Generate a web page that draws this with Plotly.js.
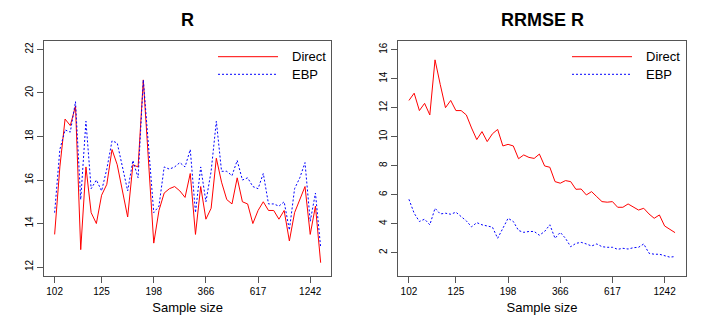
<!DOCTYPE html>
<html>
<head>
<meta charset="utf-8">
<script src="https://cdn.plot.ly/plotly-3.0.1.min.js"></script>
<style>html,body{margin:0;padding:0;background:#fff;}#chart{width:708px;height:327px;}</style>
</head>
<body>
<div id="chart"></div>
<script>
// Tick labels (sample sizes) at area index positions
const tickPositions = [1, 10, 20, 30, 40, 50];
const tickLabels = ['102', '125', '198', '366', '617', '1242'];

// Left panel: R estimates
const rDirect = [13.5, 16.6, 18.8, 18.5, 19.4, 12.8, 16.6, 14.5, 14.0, 15.3,
  15.8, 17.4, 16.7, 15.5, 14.3, 16.7, 16.6, 20.6, 16.8, 13.1,
  14.6, 15.4, 15.6, 15.7, 15.5, 15.2, 16.3, 13.5, 15.7, 14.2,
  14.7, 17.0, 15.9, 15.1, 14.9, 16.1, 15.0, 14.9, 14.0, 14.6,
  15.0, 14.6, 14.6, 14.2, 14.6, 13.2, 14.5, 15.1, 15.7, 13.5,
  14.8, 12.2];
const rEBP = [14.5, 17.4, 18.3, 18.2, 19.6, 15.1, 18.7, 15.6, 16.0, 15.5,
  16.5, 17.8, 17.7, 16.6, 15.5, 16.9, 16.1, 20.6, 17.4, 14.5,
  14.8, 16.6, 16.5, 16.6, 16.8, 16.6, 17.4, 14.5, 16.6, 15.0,
  16.4, 18.7, 16.4, 16.4, 16.2, 16.9, 16.0, 16.1, 15.7, 15.6,
  16.3, 14.9, 14.9, 14.8, 15.0, 13.7, 15.6, 16.1, 16.8, 14.1,
  15.4, 12.9];

// Right panel: RRMSE of R
const rrmseDirect = [12.5, 13.0, 11.8, 12.3, 11.5, 15.3, 13.6, 12.0, 12.5, 11.8,
  11.8, 11.5, 10.6, 9.8, 10.35, 9.66, 10.2, 10.5, 9.36, 9.47,
  9.36, 8.48, 8.74, 8.57, 8.5, 8.8, 7.98, 7.89, 6.9, 6.79,
  6.97, 6.9, 6.37, 6.39, 5.98, 6.21, 5.86, 5.52, 5.48, 5.52,
  5.13, 5.13, 5.36, 5.13, 4.94, 5.06, 4.67, 4.37, 4.6, 3.84,
  3.61, 3.38];
const rrmseEBP = [5.68, 4.72, 4.15, 4.31, 3.92, 5.06, 4.67, 4.72, 4.65, 4.79,
  4.49, 4.19, 3.78, 4.07, 3.92, 3.85, 3.76, 2.99, 3.7, 4.37,
  4.15, 3.53, 3.4, 3.46, 3.46, 3.2, 3.46, 3.92, 2.99, 3.4,
  2.99, 2.41, 2.64, 2.71, 2.6, 2.46, 2.6, 2.41, 2.37, 2.37,
  2.23, 2.3, 2.25, 2.34, 2.37, 2.6, 1.96, 1.89, 1.89, 1.78,
  1.69, 1.73];

const leftYTicks = [12, 14, 16, 18, 20, 22];
const rightYTicks = [2, 4, 6, 8, 10, 12, 14, 16];

const idx = rDirect.map((_, i) => i + 1);
const FONT = 'Liberation Sans, Arial, Helvetica, sans-serif';
const RED = '#ff0000';
const BLUE = '#0000ff';
const BOX = '#555555';

const traces = [
  {x: idx, y: rDirect, type: 'scatter', mode: 'lines', name: 'Direct', xaxis: 'x', yaxis: 'y',
   line: {color: RED, width: 1}, showlegend: false},
  {x: idx, y: rEBP, type: 'scatter', mode: 'lines', name: 'EBP', xaxis: 'x', yaxis: 'y',
   line: {color: BLUE, width: 1, dash: '2px,2px'}, showlegend: false},
  {x: idx, y: rrmseDirect, type: 'scatter', mode: 'lines', name: 'Direct', xaxis: 'x2', yaxis: 'y2',
   line: {color: RED, width: 1}, showlegend: false},
  {x: idx, y: rrmseEBP, type: 'scatter', mode: 'lines', name: 'EBP', xaxis: 'x2', yaxis: 'y2',
   line: {color: BLUE, width: 1, dash: '2px,2px'}, showlegend: false}
];

function xAxis(domain) {
  return {
    domain: domain, range: [-1.04, 54.04], tickmode: 'array',
    tickvals: tickPositions, ticktext: tickLabels,
    ticks: 'outside', ticklen: 6, tickwidth: 1, tickcolor: BOX,
    showline: true, mirror: true, linecolor: BOX, linewidth: 1,
    showgrid: false, zeroline: false,
    tickfont: {family: FONT, size: 10, color: '#000'},
    title: {text: 'Sample size', font: {family: FONT, size: 13, color: '#000'}, standoff: 6}
  };
}
function yAxis(range, ticks, anchor) {
  return {
    domain: [0.156, 0.8755], range: range, anchor: anchor, tickmode: 'array', tickvals: ticks,
    ticks: 'outside', ticklen: 6, tickwidth: 1, tickcolor: BOX, tickangle: -90,
    showline: true, mirror: true, linecolor: BOX, linewidth: 1,
    showgrid: false, zeroline: false,
    tickfont: {family: FONT, size: 10, color: '#000'}
  };
}

const W = 708, H = 327;
function legendItems(x0, x1, xt) {
  const yD = 1 - 56.7 / H, yE = 1 - 74.3 / H;
  return {
    shapes: [
      {type: 'line', xref: 'paper', yref: 'paper', x0: x0 / W, x1: x1 / W, y0: yD, y1: yD,
       line: {color: RED, width: 1}},
      {type: 'line', xref: 'paper', yref: 'paper', x0: x0 / W, x1: x1 / W, y0: yE, y1: yE,
       line: {color: BLUE, width: 1, dash: '2px,2px'}}
    ],
    annotations: [
      {text: 'Direct', xref: 'paper', yref: 'paper', x: xt / W, y: yD, xanchor: 'left', yanchor: 'middle',
       showarrow: false, font: {family: FONT, size: 13, color: '#000'}},
      {text: 'EBP', xref: 'paper', yref: 'paper', x: xt / W, y: yE, xanchor: 'left', yanchor: 'middle',
       showarrow: false, font: {family: FONT, size: 13, color: '#000'}}
    ]
  };
}
const legL = legendItems(218, 278, 290);
const legR = legendItems(572, 632, 644);

const layout = {
  width: W, height: H,
  margin: {l: 0, r: 0, t: 0, b: 0},
  paper_bgcolor: '#fff', plot_bgcolor: '#fff',
  showlegend: false,
  xaxis: xAxis([44 / W, 331.3 / W]),
  yaxis: yAxis([11.59, 22.4], leftYTicks, 'x'),
  xaxis2: Object.assign(xAxis([398.3 / W, 685.7 / W]), {anchor: 'y2'}),
  yaxis2: yAxis([0.39, 16.62], rightYTicks, 'x2'),
  shapes: legL.shapes.concat(legR.shapes),
  annotations: [
    {text: 'R', xref: 'paper', yref: 'paper', x: 187.6 / W, y: 1 - 20 / H, xanchor: 'center', yanchor: 'middle',
     showarrow: false, font: {family: FONT, size: 18, weight: 'bold', color: '#000'}},
    {text: 'RRMSE R', xref: 'paper', yref: 'paper', x: 542 / W, y: 1 - 20 / H, xanchor: 'center', yanchor: 'middle',
     showarrow: false, font: {family: FONT, size: 18, weight: 'bold', color: '#000'}}
  ].concat(legL.annotations, legR.annotations)
};
layout.xaxis.anchor = 'y';

Plotly.newPlot('chart', traces, layout, {displayModeBar: false, staticPlot: true});
</script>
</body>
</html>
